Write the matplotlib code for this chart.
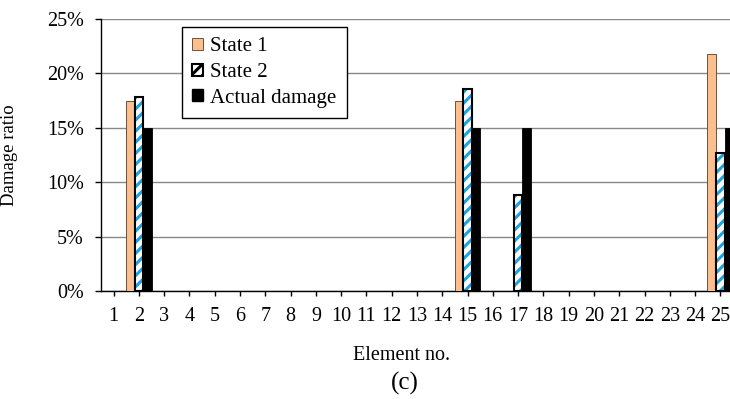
import matplotlib
matplotlib.use("Agg")
import matplotlib.pyplot as plt
import numpy as np
from matplotlib.patches import Patch
from matplotlib.ticker import FuncFormatter

plt.rcParams['font.family'] = ['Liberation Serif', 'DejaVu Serif']
plt.rcParams['hatch.linewidth'] = 2.2
plt.rcParams['hatch.color'] = '#1BA4DE'

elements = list(range(1, 26))
state1 = [0, 0.175] + [0]*12 + [0.175, 0, 0] + [0]*7 + [0.218]
state2 = [0, 0.178] + [0]*12 + [0.186, 0, 0.088] + [0]*7 + [0.127]
actual = [0, 0.15] + [0]*12 + [0.15, 0, 0.15] + [0]*7 + [0.15]

fig = plt.figure(figsize=(7.30, 3.99), dpi=100)
ax = fig.add_axes([101/730, 1 - 291/399, 632/730, 272/399])

x = np.array(elements, dtype=float)
w = 0.34
orange = '#F9BF8F'

s1 = np.array(state1); s2 = np.array(state2); ac = np.array(actual)
m1 = s1 > 0; m2 = s2 > 0; m3 = ac > 0
ax.bar(x[m1] - w, s1[m1], width=w, color=orange, edgecolor='#5a3a20', linewidth=0.6, zorder=3)
ax.bar(x[m2], s2[m2], width=w, color='white', edgecolor='#1BA4DE', linewidth=0, hatch='///', zorder=3)
ax.bar(x[m2], s2[m2], width=w, color='none', edgecolor='black', linewidth=1.5, zorder=4)
ax.bar(x[m3] + w, ac[m3], width=w, color='black', edgecolor='black', linewidth=0.6, zorder=3)

ax.set_xlim(0.5, 25.5)
ax.set_ylim(0, 0.25)
ax.set_yticks(np.arange(0, 0.2501, 0.05))
ax.yaxis.set_major_formatter(FuncFormatter(lambda v, p: f"{v*100:.0f}%"))
ax.set_xticks(x)
ax.set_xticklabels([str(e) for e in elements])
ax.tick_params(axis='both', labelsize=14.5, direction='out', width=1, colors='black')
ax.tick_params(axis='x', length=3.5, pad=8)
ax.tick_params(axis='y', length=4.5, pad=8)
ax.grid(axis='y', color='#888888', linewidth=1, zorder=0)
for s in ['top', 'right']:
    ax.spines[s].set_visible(False)
ax.spines['left'].set_linewidth(1)
ax.spines['bottom'].set_linewidth(1)

ax.set_ylabel('Damage ratio', fontsize=13.5)
ax.yaxis.set_label_coords((18 - 101)/632, 0.5)
fig.text(402/730, 1 - 355/399, 'Element no.', ha='center', va='center', fontsize=14.5)
fig.text(405/730, 1 - 383/399, '(c)', ha='center', va='center', fontsize=18)

handles = [Patch(facecolor=orange, edgecolor='#5a3a20', linewidth=0.6),
           Patch(facecolor='white', edgecolor='black', linewidth=1.5, hatch='///'),
           Patch(facecolor='black', edgecolor='black')]
leg = ax.legend(handles, ['State 1', 'State 2', 'Actual damage'],
                loc='upper left', bbox_to_anchor=((182-101)/632, (291-27)/272),
                fontsize=15, frameon=True, fancybox=False, framealpha=1,
                edgecolor='black', handlelength=0.5, handleheight=0.5,
                handletextpad=0.35, labelspacing=0.32, borderpad=0.5,
                borderaxespad=0)
leg.get_frame().set_linewidth(1)
leg.set_zorder(5)

fig.savefig('out.png', dpi=100)
